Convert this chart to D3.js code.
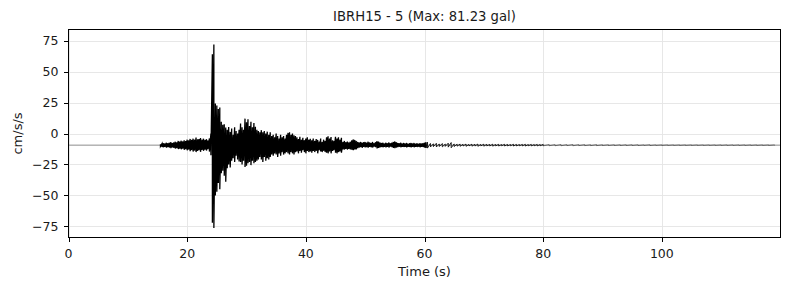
<!DOCTYPE html>
<html>
<head>
<meta charset="utf-8">
<script src="https://cdn.jsdelivr.net/npm/d3@7"></script>
<style>
  html, body { margin: 0; padding: 0; background: #fff; }
  svg { display: block; font-family: "DejaVu Sans", sans-serif; }
</style>
</head>
<body>
<svg id="chart" width="790" height="290"></svg>
<script>
// ---------------- data ----------------
const titleText = "IBRH15 - 5 (Max: 81.23 gal)";
const xLabelText = "Time (s)";
const yLabelText = "cm/s/s";
const xTicks = [0, 20, 40, 60, 80, 100];
const yTicks = [-75, -50, -25, 0, 25, 50, 75];
const xDomain = [0, 120];
const yDomain = [-83.9, 83.9];
const baselineValue = -9.4;       // record mean (cm/s/s)

// strong-motion part: per-bin max / min, bins of 0.25 s starting at 15.5 s
const denseStart = 15.5;
const denseStep = 0.25;
const denseHigh = [
  -8.6, -8.2,
  -7.8, -8.0, -7.4, -7.9,
  -7.5, -7.0, -7.7, -7.2,
  -6.6, -7.1, -6.0, -6.5,
  -5.8, -6.4, -5.5, -6.1,
  -5.0, -5.6, -4.4, -5.2,
  -4.2, -5.0, -3.2, -4.6,
  -4.5, -3.6, -5.0, -4.2,
  -5.2, -4.6, -5.6, -4.0,
  0.0, 64.0, 71.83, 24.2,
  22.5, 19.8, 21.0, 9.4,
  7.0, 7.5, 4.8, 3.0,
  5.3, 1.3, 4.0, -1.0,
  5.0, 2.0, 0.0, 3.0,
  8.0, 5.0, 3.0, 12.0,
  9.0, 11.5, 6.0, 9.4,
  5.0, 8.5, 5.5, 3.0,
  2.0, 1.0, 2.7, 1.0,
  2.0, 0.0, 1.5, -1.0,
  1.0, -2.0, -1.0, -3.0,
  0.0, -2.0, -4.0, -1.0,
  -3.0, -2.0, -4.0, -1.0,
  0.5, 1.0, -1.0, 0.0,
  -1.4, -2.0, -3.0, -4.5,
  -2.7, -5.0, -3.5, -5.4,
  -4.0, -3.0, -5.0, -4.2,
  -5.5, -4.0, -6.0, -4.5,
  -5.2, -6.5, -4.0, -6.8,
  -5.0, -6.0, -3.0, -2.2,
  -4.0, -2.8, -5.5, -6.0,
  -2.7, -4.0, -3.0, -5.0,
  -3.5, -6.8, -6.0, -7.0,
  -6.5, -7.2, -6.6, -5.5,
  -4.8, -5.2, -6.0, -6.8,
  -7.2, -6.8, -7.5, -7.0,
  -6.8, -7.4, -6.6, -7.2,
  -7.6, -6.9, -7.8, -7.1,
  -6.2, -6.5, -7.3, -7.7,
  -7.4, -8.0, -7.5, -7.9,
  -7.2, -7.8, -7.4, -6.8,
  -6.4, -7.0, -7.6, -7.9,
  -7.5, -8.1, -7.7, -8.0,
  -7.6, -8.2, -7.8, -7.6,
  -8.0, -7.7, -8.3, -7.9,
  -8.2, -7.8, -8.1, -7.9,
  -7.5, -7.1
];
const denseLow = [
  -10.3, -10.8,
  -11.0, -10.7, -11.4, -11.0,
  -11.3, -11.8, -11.2, -11.6,
  -12.2, -11.8, -12.6, -12.3,
  -12.8, -12.3, -13.2, -12.7,
  -13.6, -13.0, -14.3, -13.4,
  -14.6, -13.8, -15.0, -14.1,
  -13.5, -14.8, -13.2, -14.0,
  -13.0, -13.8, -12.6, -14.6,
  -17.5, -72.0, -76.3, -50.0,
  -47.0, -40.0, -45.0, -32.0,
  -30.0, -34.0, -39.0, -28.0,
  -25.0, -27.5, -22.0, -20.0,
  -23.0, -18.0, -21.0, -22.5,
  -23.0, -25.0, -22.0, -27.0,
  -26.0, -24.0, -23.0, -25.5,
  -22.0, -24.0, -23.0, -22.0,
  -21.0, -19.0, -21.0, -23.0,
  -19.0, -22.0, -20.0, -21.0,
  -19.0, -17.0, -18.0, -16.0,
  -17.0, -19.0, -16.0, -18.0,
  -15.0, -17.0, -16.0, -15.0,
  -16.0, -17.0, -15.0, -16.0,
  -17.0, -15.0, -14.5, -16.0,
  -14.0, -15.5, -13.5, -15.0,
  -16.0, -14.0, -15.0, -14.5,
  -15.5, -14.0, -15.0, -14.0,
  -16.0, -13.5, -14.5, -15.0,
  -14.0, -15.0, -15.5, -16.0,
  -14.5, -16.0, -14.0, -13.5,
  -15.5, -16.0, -15.0, -14.5,
  -15.5, -12.9, -13.0, -12.5,
  -13.0, -12.4, -12.9, -13.2,
  -13.5, -13.0, -12.8, -11.8,
  -11.3, -11.0, -11.5, -10.8,
  -11.2, -11.0, -11.4, -10.8,
  -11.1, -11.3, -10.6, -11.0,
  -12.0, -11.6, -11.2, -10.9,
  -11.0, -10.7, -11.2, -10.8,
  -11.3, -10.6, -11.0, -11.6,
  -11.8, -11.3, -10.9, -10.7,
  -11.1, -10.6, -10.9, -10.8,
  -11.2, -10.6, -10.9, -11.1,
  -10.7, -11.0, -10.6, -10.9,
  -10.7, -11.0, -10.6, -10.9,
  -11.3, -11.6
];

// coda: per-bin max / min, bins of 0.5 s starting at 60.5 s
const codaStart = 60.5;
const codaStep = 0.5;
const codaHigh = [
  -7.0, -8.0, -8.3, -7.9, -8.4, -8.1, -8.5, -7.8, -7.3, -8.4,
  -8.6, -8.5, -8.7, -8.5, -8.8, -8.6, -8.7, -8.5, -8.8, -8.6,
  -8.7, -8.8, -8.6, -8.8, -8.7, -8.9, -8.7, -8.8, -8.9, -8.7,
  -8.8, -8.9, -8.8, -8.7, -8.9, -8.8, -8.9, -8.8, -8.9, -8.8
];
const codaLow = [
  -11.8, -10.9, -10.6, -10.9, -10.5, -10.8, -10.4, -11.0, -11.5, -10.5,
  -10.2, -10.3, -10.1, -10.3, -10.0, -10.2, -10.1, -10.3, -10.0, -10.2,
  -10.0, -10.1, -10.2, -10.0, -10.1, -9.9, -10.1, -10.0, -9.9, -10.1,
  -10.0, -9.9, -10.0, -10.1, -9.9, -10.0, -9.9, -10.0, -9.9, -10.0
];

// late tail: per-bin max / min, bins of 1 s starting at 81 s
const tailStart = 81;
const tailStep = 1;
const tailHigh = [
  -8.9, -9.0, -8.9, -9.0, -8.9, -9.0, -9.0, -9.1, -9.0, -9.1,
  -9.1, -9.1, -9.1, -9.1, -9.1, -9.1, -9.2, -9.1, -9.2, -9.2,
  -9.2, -9.2, -9.2, -9.2, -9.2, -9.2, -9.2, -9.2, -9.2, -9.2,
  -9.2, -9.2, -9.2, -9.2, -9.2, -9.2, -9.2, -9.2, -9.2
];
const tailLow = [
  -9.9, -9.9, -9.9, -9.8, -9.9, -9.8, -9.8, -9.8, -9.8, -9.7,
  -9.7, -9.7, -9.7, -9.7, -9.7, -9.7, -9.6, -9.7, -9.6, -9.6,
  -9.6, -9.6, -9.6, -9.6, -9.6, -9.6, -9.6, -9.6, -9.6, -9.6,
  -9.6, -9.6, -9.6, -9.6, -9.6, -9.6, -9.6, -9.6, -9.6
];

// ---------------- drawing ----------------
const svg = d3.select("#chart");
const L = 68.5, R = 780.5, T = 29.5, B = 237.5;

const x = d3.scaleLinear().domain(xDomain).range([L, R]);
const y = d3.scaleLinear().domain(yDomain).range([B, T]);

// grid
const grid = svg.append("g");
grid.selectAll("line.gx").data(xTicks).enter().append("line")
  .attr("x1", d => Math.round(x(d)) + 0.5).attr("x2", d => Math.round(x(d)) + 0.5)
  .attr("y1", T).attr("y2", B)
  .attr("stroke", "#e4e4e4").attr("stroke-width", 0.9);
grid.selectAll("line.gy").data(yTicks).enter().append("line")
  .attr("x1", L).attr("x2", R)
  .attr("y1", d => Math.round(y(d)) + 0.5).attr("y2", d => Math.round(y(d)) + 0.5)
  .attr("stroke", "#e4e4e4").attr("stroke-width", 0.9);

// clip
svg.append("clipPath").attr("id", "clip").append("rect")
  .attr("x", L).attr("y", T).attr("width", R - L).attr("height", B - T);

const plot = svg.append("g").attr("clip-path", "url(#clip)");

// baseline (quiet record level)
plot.append("line")
  .attr("x1", x(xDomain[0])).attr("x2", x(xDomain[1]))
  .attr("y1", y(baselineValue)).attr("y2", y(baselineValue))
  .attr("stroke", "#8c8c8c").attr("stroke-width", 1);

function binsToPoints(start, step, hi, lo) {
  const pts = [];
  hi.forEach((h, i) => {
    const t = start + i * step;
    pts.push([t, h]);
    pts.push([t, lo[i]]);
  });
  return pts;
}

const line = d3.line().x(d => x(d[0])).y(d => y(d[1]));

const densePts = binsToPoints(denseStart, denseStep, denseHigh, denseLow);
const codaPts = binsToPoints(codaStart, codaStep, codaHigh, codaLow);
const tailPts = binsToPoints(tailStart, tailStep, tailHigh, tailLow);

plot.append("path")
  .attr("d", line([codaPts[codaPts.length - 1]].concat(tailPts)))
  .attr("fill", "none").attr("stroke", "#000").attr("stroke-width", 0.45);

plot.append("path")
  .attr("d", line([densePts[densePts.length - 1]].concat(codaPts)))
  .attr("fill", "none").attr("stroke", "#000").attr("stroke-width", 0.85);

plot.append("path")
  .attr("d", line(densePts))
  .attr("fill", "none").attr("stroke", "#000").attr("stroke-width", 1.3)
  .attr("stroke-linejoin", "miter");

// frame
svg.append("rect")
  .attr("x", L).attr("y", T).attr("width", R - L).attr("height", B - T)
  .attr("fill", "none").attr("stroke", "#000").attr("stroke-width", 1);

// x axis ticks
const tickLen = 4.5;
const gx = svg.append("g");
xTicks.forEach(d => {
  const px = Math.round(x(d)) + 0.5;
  gx.append("line").attr("x1", px).attr("x2", px)
    .attr("y1", B).attr("y2", B + tickLen)
    .attr("stroke", "#000").attr("stroke-width", 1);
  gx.append("text").attr("x", x(d)).attr("y", 257.5)
    .attr("text-anchor", "middle").attr("font-size", "12.5px").attr("fill", "#1a1a1a")
    .text(d);
});

// y axis ticks
const gy = svg.append("g");
yTicks.forEach(d => {
  const py = Math.round(y(d)) + 0.5;
  gy.append("line").attr("x1", L - tickLen).attr("x2", L)
    .attr("y1", py).attr("y2", py)
    .attr("stroke", "#000").attr("stroke-width", 1);
  gy.append("text").attr("x", 58.5).attr("y", y(d))
    .attr("dy", "0.35em")
    .attr("text-anchor", "end").attr("font-size", "12.5px").attr("fill", "#1a1a1a")
    .text(d < 0 ? "\u2212" + Math.abs(d) : d);
});

// labels
svg.append("text").attr("x", (L + R) / 2).attr("y", 276)
  .attr("text-anchor", "middle").attr("font-size", "13px").attr("fill", "#1a1a1a")
  .text(xLabelText);

svg.append("text")
  .attr("transform", `translate(21.5, ${(T + B) / 2}) rotate(-90)`)
  .attr("text-anchor", "middle").attr("font-size", "13px").attr("fill", "#1a1a1a")
  .text(yLabelText);

svg.append("text").attr("x", (L + R) / 2).attr("y", 20.5)
  .attr("text-anchor", "middle").attr("font-size", "13.2px").attr("fill", "#1a1a1a")
  .text(titleText);
</script>
</body>
</html>
